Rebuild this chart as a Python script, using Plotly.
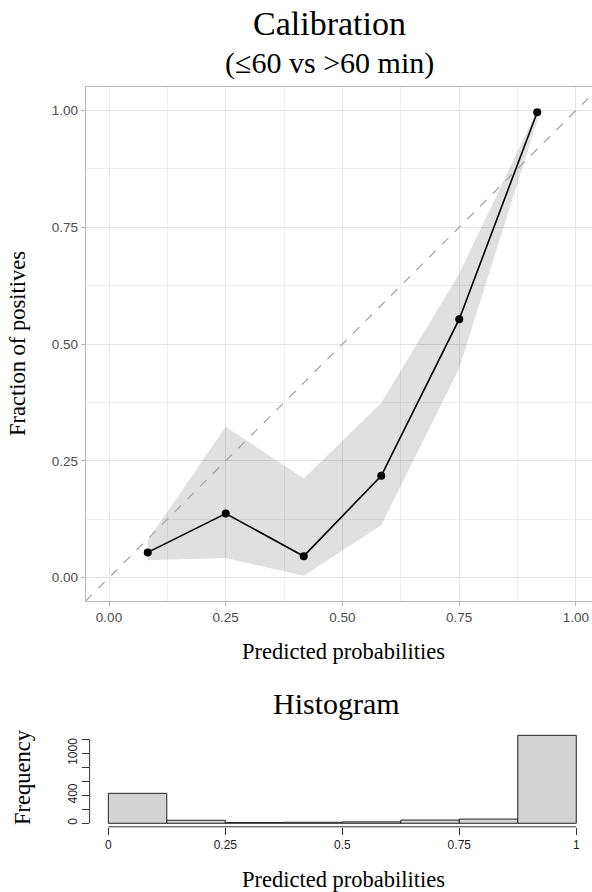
import plotly.graph_objects as go

W, H = 592, 892

# ---- calibration data ----
pred_prob = [0.083, 0.25, 0.417, 0.583, 0.75, 0.917]
frac_pos = [0.054, 0.137, 0.046, 0.218, 0.553, 0.996]
ci_lower = [0.037, 0.042, 0.004, 0.112, 0.448, 0.978]
ci_upper = [0.080, 0.323, 0.212, 0.374, 0.651, 1.000]
diag = [-0.05, 1.1]

cal_ticks = [0.0, 0.25, 0.5, 0.75, 1.0]

# ---- histogram data ----
bin_left = [0.0, 0.125, 0.25, 0.375, 0.5, 0.625, 0.75, 0.875]
bin_width = 0.125
bin_counts = [428, 43, 12, 14, 20, 46, 60, 1257]
hist_xticks = [0, 0.25, 0.5, 0.75, 1]
hist_xtext = ["0", "0.25", "0.5", "0.75", "1"]
hist_yticks = [0, 200, 400, 600, 800, 1000, 1200]
hist_ytext = ["0", "", "400", "", "", "1000", ""]

SERIF = "Liberation Serif"
SANS = "Liberation Sans"

def px(x):
    return x / W

def py(y):
    return 1 - y / H

fig = go.Figure()

# ribbon
fig.add_trace(go.Scatter(
    x=pred_prob + pred_prob[::-1],
    y=ci_upper + ci_lower[::-1],
    fill="toself", fillcolor="rgba(0,0,0,0.12)",
    line=dict(width=0), mode="lines", hoverinfo="skip",
    xaxis="x", yaxis="y", showlegend=False))

# diagonal reference
fig.add_trace(go.Scatter(
    x=diag, y=diag, mode="lines",
    line=dict(color="#a8a8a8", width=1.3, dash="dash"),
    xaxis="x", yaxis="y", showlegend=False))

# calibration curve
fig.add_trace(go.Scatter(
    x=pred_prob, y=frac_pos, mode="lines+markers",
    line=dict(color="black", width=1.6),
    marker=dict(color="black", size=8),
    xaxis="x", yaxis="y", showlegend=False))

# histogram bars
fig.add_trace(go.Bar(
    x=[b + bin_width / 2 for b in bin_left], y=bin_counts, width=bin_width,
    marker=dict(color="#d3d3d3", line=dict(color="#222222", width=1)),
    xaxis="x2", yaxis="y2", showlegend=False))

grid_major = "#e4e4e4"
grid_minor = "#efefef"
border = "#b8b8b8"
tickfont_top = dict(family=SANS, size=13.5, color="#4d4d4d")

fig.update_layout(
    width=W, height=H,
    margin=dict(l=0, r=0, t=0, b=0),
    paper_bgcolor="white", plot_bgcolor="white",
    xaxis=dict(
        domain=[px(85.65), 1.0], range=[-0.05, 1.0343],
        tickvals=cal_ticks, tickformat=".2f",
        ticks="outside", ticklen=4, tickcolor=border, tickwidth=1,
        tickfont=tickfont_top,
        showgrid=True, gridcolor=grid_major, gridwidth=1,
        minor=dict(tickvals=[0.125, 0.375, 0.625, 0.875], showgrid=True,
                   gridcolor=grid_minor, gridwidth=1, ticks=""),
        showline=True, linecolor=border, linewidth=1, mirror=True,
        zeroline=False, anchor="y",
    ),
    yaxis=dict(
        domain=[py(601), py(87)], range=[-0.05, 1.05],
        tickvals=cal_ticks, tickformat=".2f",
        ticks="outside", ticklen=4, tickcolor=border, tickwidth=1,
        tickfont=tickfont_top,
        showgrid=True, gridcolor=grid_major, gridwidth=1,
        minor=dict(tickvals=[0.125, 0.375, 0.625, 0.875], showgrid=True,
                   gridcolor=grid_minor, gridwidth=1, ticks=""),
        showline=True, linecolor=border, linewidth=1,
        zeroline=False, anchor="x",
    ),
    xaxis2=dict(
        domain=[px(89.6), 1.0], range=[-0.04, 1.0336],
        tickvals=hist_xticks, ticktext=hist_xtext,
        ticks="outside", ticklen=7, tickcolor="#333333", tickwidth=1,
        tickfont=dict(family=SANS, size=12, color="#222222"),
        showgrid=False, showline=False, zeroline=False, anchor="y2",
    ),
    yaxis2=dict(
        domain=[py(826.8), py(731.8)], range=[-50.3, 1307.3],
        tickvals=hist_yticks, ticktext=hist_ytext, tickangle=-90,
        ticks="outside", ticklen=7, tickcolor="#333333", tickwidth=1,
        tickfont=dict(family=SANS, size=12, color="#222222"),
        showgrid=False, showline=False, zeroline=False, anchor="x2",
    ),
    bargap=0,
    shapes=[
        dict(type="line", xref="x2 domain", yref="y2", x0=0, x1=0, y0=0, y1=1200,
             line=dict(color="#333333", width=1)),
        dict(type="line", xref="x2", yref="y2 domain", x0=0, x1=1, y0=0, y1=0,
             line=dict(color="#333333", width=1)),
    ],
)

def label(text, x, y, size, angle=0):
    fig.add_annotation(text=text, x=px(x), y=py(y), xref="paper", yref="paper",
                       showarrow=False, textangle=angle,
                       xanchor="center", yanchor="middle",
                       font=dict(family=SERIF, size=size, color="black"))

label("Calibration", 329, 23, 34)
label("(≤60 vs >60 min)", 329, 63, 30)
label("Predicted probabilities", 344, 651, 22.5)
label("Fraction of positives", 17, 344, 22.5, angle=-90)
label("Histogram", 336, 703, 30)
label("Frequency", 22, 777, 22.5, angle=-90)
label("Predicted probabilities", 344, 879, 22.5)

# remove the default page margin so the 592x892 figure fills the window exactly
page_fix = ("document.body.style.margin='0px';"
            "document.documentElement.style.overflow='hidden';"
            "document.body.style.overflow='hidden';")

fig.write_html("out.html", post_script=page_fix,
               config={"displayModeBar": False, "staticPlot": True})
